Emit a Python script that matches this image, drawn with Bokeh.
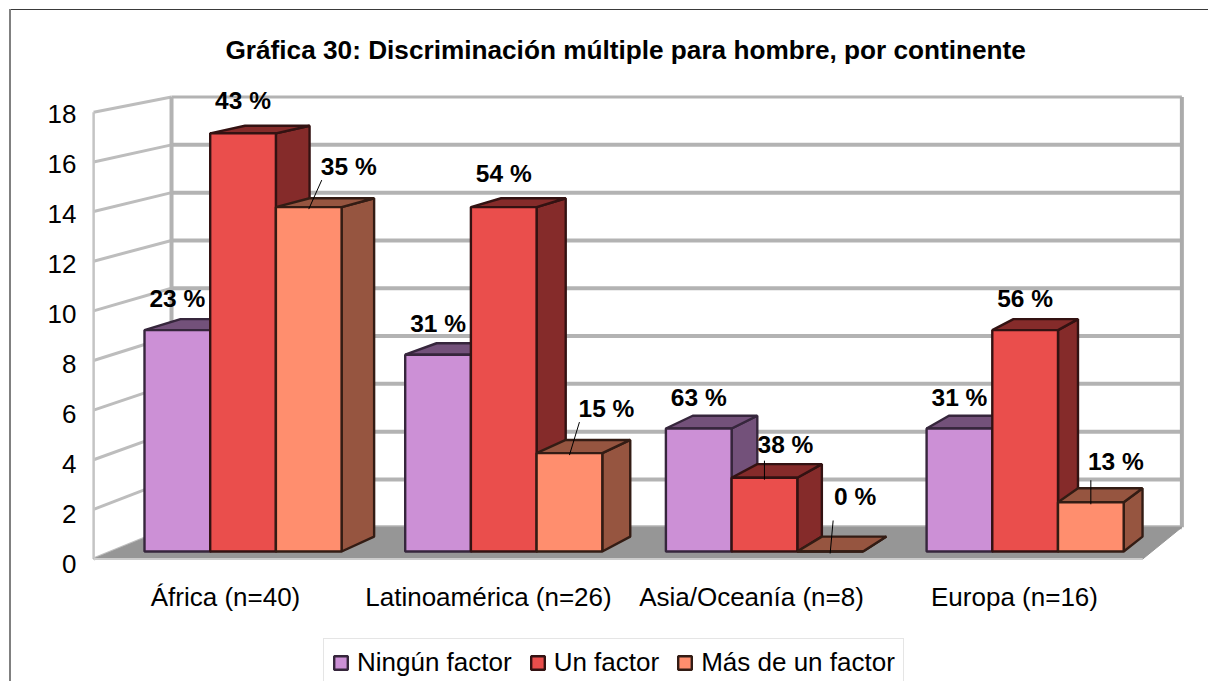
from bokeh.plotting import figure
from bokeh.models import (Range1d, LinearAxis, FixedTicker, Legend, LegendItem, Title, ColumnDataSource)
from bokeh.embed import file_html
from bokeh.resources import INLINE

# ---- data ----
categories = ["África (n=40)", "Latinoamérica (n=26)", "Asia/Oceanía (n=8)", "Europa (n=16)"]
series_names = ["Ningún factor", "Un factor", "Más de un factor"]
ningun = [9, 8, 5, 5]
un = [17, 14, 3, 9]
mas = [14, 4, 0, 2]
pct_ningun = ["23 %", "31 %", "63 %", "31 %"]
pct_un = ["43 %", "54 %", "38 %", "56 %"]
pct_mas = ["35 %", "15 %", "0 %", "13 %"]
y_ticks = [0, 2, 4, 6, 8, 10, 12, 14, 16, 18]
title_text = "Gráfica 30: Discriminación múltiple para hombre, por continente"

# ---- style / layout ----
FONT = "Liberation Sans"
front_col = ["#CC90D6", "#EA4E4C", "#FF8E6E"]
side_col = ["#73517A", "#852B2A", "#965540"]
edge_col = ["#36263C", "#331212", "#331C14"]

W, H = 1208, 681
TOP = 66                 # title band above the plotting frame
PX_X = 260.7             # pixels per category unit
PX_Y = 24.6              # pixels per value unit
X0, Y0 = 144.0, 551.0    # position of the first bar's base
sx = lambda px: (px - X0) / PX_X
sy = lambda py: (Y0 - py) / PX_Y
VP = (sx(2200), sy(-300))       # vanishing point of the view
T_BAR, T_WALL, T_FRONT = 0.0175, 0.0285, -0.0088
BAR_W = 0.252
BOX_L, BOX_R = sx(111.5), sx(1151.5)

def proj(x, y, t):
    return x + t * (VP[0] - x), y + t * (VP[1] - y)

chart_border = (
    ":host::before{content:'';position:absolute;left:9px;top:8.5px;width:1199px;height:1.5px;"
    "background:#3A3A3A;z-index:5;}"
    ":host::after{content:'';position:absolute;left:8.5px;top:9px;width:2px;height:672px;"
    "background:#808080;z-index:5;}"
)

p = figure(width=W, height=H, output_backend="svg", toolbar_location=None,
           x_axis_type=None, y_axis_type=None,
           x_range=Range1d(sx(0), sx(W)), y_range=Range1d(sy(H), sy(TOP)),
           min_border_left=0, min_border_right=0, min_border_bottom=0, min_border_top=TOP,
           background_fill_color="white", border_fill_color="white", outline_line_color=None,
           stylesheets=[chart_border])
p.grid.visible = False

p.add_layout(Title(text=title_text, align="left", offset=225, text_font=FONT, text_font_size="26.2px",
                   text_font_style="bold", text_color="#000000", standoff=3), "above")

# ---- walls ----
ymax = y_ticks[-1]
fl, bl = proj(BOX_L, 0, T_FRONT), proj(BOX_L, 0, T_WALL)
flt, blt = proj(BOX_L, ymax, T_FRONT), proj(BOX_L, ymax, T_WALL)
br, brt = proj(BOX_R, 0, T_WALL), proj(BOX_R, ymax, T_WALL)
fr = proj(BOX_R, 0, T_FRONT)

# left wall grid
for v in y_ticks:
    a, b = proj(BOX_L, v, T_FRONT), proj(BOX_L, v, T_WALL)
    p.line([a[0], b[0]], [a[1], b[1]], line_color="#BDBDBD", line_width=3)
p.line([flt[0], fl[0]], [flt[1], fl[1]], line_color="#C4C4C4", line_width=2.5)
# back wall grid
for v in y_ticks:
    a, b = proj(BOX_L, v, T_WALL), proj(BOX_R, v, T_WALL)
    p.line([a[0], b[0]], [a[1], b[1]], line_color="#B3B3B3", line_width=4 if v != ymax else 3)
p.line([blt[0], bl[0]], [blt[1], bl[1]], line_color="#B3B3B3", line_width=4)
p.line([brt[0], br[0]], [brt[1], br[1]], line_color="#ABABAB", line_width=4)

# floor
p.patch([fl[0], bl[0], br[0], fr[0]], [fl[1], bl[1], br[1], fr[1]], fill_color="#969696", line_color="#969696", line_width=1)
p.line([fl[0], fr[0]], [fl[1], fr[1]], line_color="#CCCCCC", line_width=2)

# ---- bars, painted back-to-front within each group ----
values = [ningun, un, mas]
legend_r = {}
for g in range(len(categories)):
    for s, vals in enumerate(values):
        v = vals[g]
        x0 = g + s * BAR_W
        x1 = x0 + BAR_W
        fill, side, edge = front_col[s], side_col[s], edge_col[s]
        t0, t1 = proj(x0, v, T_BAR), proj(x1, v, T_BAR)
        b1 = proj(x1, 0, T_BAR)
        p.patch([x1, t1[0], b1[0], x1], [v, t1[1], b1[1], 0], fill_color=side, line_color=edge, line_width=2.4)
        p.patch([x0, t0[0], t1[0], x1], [v, t0[1], t1[1], v], fill_color=side, line_color=edge, line_width=2.4)
        q = p.quad(left=x0, right=x1, bottom=0, top=v, fill_color=fill, line_color=edge, line_width=2.4)
        legend_r.setdefault(s, q)

# ---- data labels and leader lines (offsets in pixels from the bar's top centre) ----
pcts = [pct_ningun, pct_un, pct_mas]
label_dx = [[0, 0, 0, 0], [0, 0, 21, 0], [40, 37, 25, 25]]
label_dy = [[32, 31, 31, 31], [33, 34, 33, 32], [41, 45, 55, 41]]
leader_dx = [[None] * 4, [None, None, 0, None], [13, 10, 3, 0]]
leader_dy = [[None] * 4, [None, None, 17, None], [27, 31, 31, 22]]
lx, ly, lt = [], [], []
for s, vals in enumerate(values):
    for g, v in enumerate(vals):
        cx = g + (s + 0.5) * BAR_W
        lx.append(cx + label_dx[s][g] / PX_X)
        ly.append(v + label_dy[s][g] / PX_Y)
        lt.append(pcts[s][g])
        if leader_dx[s][g] is not None:
            p.line([cx, cx + leader_dx[s][g] / PX_X], [v - 2 / PX_Y, v + leader_dy[s][g] / PX_Y],
                   line_color="#000000", line_width=1)
p.text(x="x", y="y", text="t", source=ColumnDataSource(dict(x=lx, y=ly, t=lt)),
       text_font={"value": FONT}, text_font_size={"value": "24.5px"}, text_font_style="bold",
       text_color="#000000", text_align="center", text_baseline="middle")

# ---- axes ----
p.extra_y_ranges["wall"] = Range1d((563 - H) / 25.0, (563 - TOP) / 25.0)
yax = LinearAxis(y_range_name="wall", fixed_location=sx(82), ticker=FixedTicker(ticks=y_ticks),
                 axis_line_color=None, major_tick_line_color=None, minor_tick_line_color=None,
                 major_tick_out=0, major_tick_in=0, major_label_standoff=6,
                 major_label_text_font=FONT, major_label_text_font_size="26px",
                 major_label_text_color="#000000")
p.add_layout(yax, "left")

p.extra_x_ranges["cats"] = Range1d((0 - 225.0) / 263.0, (W - 225.0) / 263.0)
xax = LinearAxis(x_range_name="cats", fixed_location=sy(575), ticker=FixedTicker(ticks=list(range(len(categories)))),
                 major_label_overrides={i: c for i, c in enumerate(categories)},
                 axis_line_color=None, major_tick_line_color=None, minor_tick_line_color=None,
                 major_tick_out=0, major_tick_in=0, major_label_standoff=6,
                 major_label_text_font=FONT, major_label_text_font_size="26px",
                 major_label_text_color="#000000")
p.add_layout(xax, "below")

# ---- legend ----
legend = Legend(items=[LegendItem(label=n, renderers=[legend_r[i]]) for i, n in enumerate(series_names)],
                orientation="horizontal", location=(323, -6), margin=0, padding=8, spacing=17,
                glyph_width=17, glyph_height=17, label_standoff=8,
                label_text_font=FONT, label_text_font_size="26px", label_text_color="#000000",
                border_line_color="#CCCCCC", border_line_width=1, background_fill_color="white",
                background_fill_alpha=1.0)
p.add_layout(legend, "center")

open("out.html", "w").write(file_html(p, INLINE))
